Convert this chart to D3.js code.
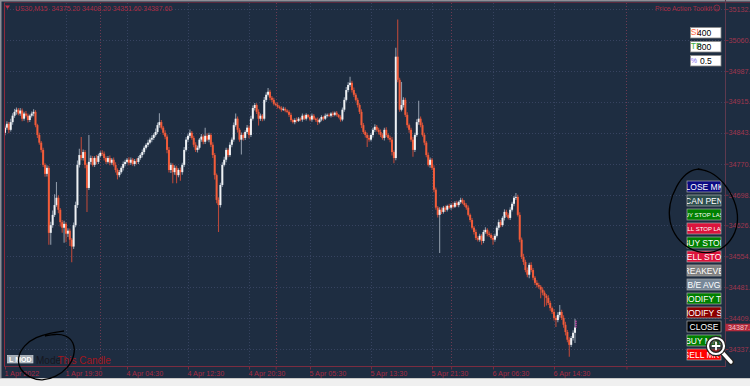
<!DOCTYPE html>
<html><head><meta charset="utf-8">
<script src="https://cdn.jsdelivr.net/npm/d3@7"></script>
<style>
html,body{margin:0;padding:0;background:#1e2d40;overflow:hidden}
svg{display:block}
text{font-family:"Liberation Sans",Arial,sans-serif}
</style></head><body>
<svg id="c" width="750" height="386"></svg>
<script>
// ---------------- data ----------------
const symbol = "US30,M15";
const firstOpen = 34843;
const closes = [
34855,34864,34850,34868,34883,34892,34897,34888,34895,34876,
34888,34883,34873,34883,34888,34892,34861,34838,34820,34803,
34768,34747,34761,34609,34627,34651,34674,34691,34663,34634,
34621,34630,34607,34614,34593,34577,34627,34674,34768,34791,
34784,34798,34768,34714,34775,34784,34768,34784,34775,34789,
34796,34794,34784,34775,34784,34773,34780,34768,34756,34744,
34751,34761,34770,34775,34780,34773,34780,34770,34777,34775,
34784,34791,34798,34808,34815,34820,34827,34831,34838,34845,
34861,34868,34855,34843,34834,34803,34756,34768,34751,34761,
34744,34756,34751,34768,34803,34827,34836,34843,34831,34815,
34803,34808,34827,34834,34822,34836,34827,34838,34815,34791,
34744,34686,34674,34721,34768,34780,34803,34791,34815,34827,
34861,34876,34850,34827,34838,34831,34845,34855,34838,34876,
34901,34908,34892,34876,34883,34876,34920,34932,34939,34925,
34920,34911,34908,34904,34901,34897,34899,34895,34892,34885,
34873,34868,34873,34871,34876,34874,34883,34876,34885,34880,
34874,34883,34876,34873,34868,34874,34880,34876,34883,34885,
34883,34888,34885,34890,34885,34880,34874,34897,34920,34943,
34955,34960,34943,34932,34920,34908,34892,34861,34845,34838,
34831,34827,34838,34850,34857,34850,34845,34838,34831,34850,
34838,34831,34827,34798,34784,35021,34967,34897,34908,34920,
34885,34861,34850,34827,34803,34838,34868,34876,34861,34838,
34820,34791,34768,34780,34761,34710,34668,34651,34663,34658,
34668,34663,34672,34668,34674,34670,34679,34674,34681,34686,
34679,34674,34668,34651,34639,34621,34611,34597,34593,34602,
34590,34611,34616,34607,34604,34597,34593,34602,34621,34634,
34627,34644,34658,34651,34644,34663,34677,34691,34693,34651,
34593,34553,34541,34522,34511,34534,34522,34504,34492,34487,
34483,34476,34469,34462,34457,34445,34433,34424,34410,34405,
34417,34424,34410,34394,34377,34359,34347,34363,34375.2,34387.6];
const upperWick = [
5,6,4,8,6,7,5,4,6,5, 4,6,5,3,5,6,4,3,5,4, 5,4,6,5,8,10,25,37,6,4, 5,7,4,6,5,4,6,8,10,15,
42,6,5,4,63,6,5,4,7,5, 4,6,5,4,5,6,4,5,6,4, 5,4,6,5,4,6,5,4,5,6, 5,4,6,5,4,7,5,6,4,8,
6,21,5,4,6,5,7,5,4,6, 5,4,6,5,7,6,5,8,4,5, 6,5,4,6,5,19,6,5,4,6, 5,4,6,5,6,7,5,4,6,5,
6,12,5,4,6,5,4,6,5,7, 6,5,4,6,5,4,7,6,9,5, 4,5,3,6,3,4,5,4,3,4, 5,3,4,6,4,3,5,3,4,2,
4,5,4,3,6,3,4,3,5,3, 4,3,5,3,4,2,4,5,6,7, 6,14,5,6,4,5,4,6,5,4, 5,6,4,5,6,4,5,6,4,5,
6,4,5,6,4,21,87,5,54,6, 5,6,4,5,6,5,7,42,5,6, 5,4,6,5,4,6,5,4,6,5, 4,5,3,5,4,6,4,5,3,5,
4,6,4,5,3,5,4,6,4,5, 4,5,6,4,5,4,6,5,4,6, 5,4,6,5,4,6,5,4,9,5, 6,5,7,5,6,5,6,5,4,6,
5,4,6,5,4,6,5,4,6,5, 6,16,5,6,7,5,6,5,6,20.6];
const lowerWick = [
6,5,8,4,6,5,7,4,5,6, 5,4,6,5,4,6,5,7,5,6, 5,7,6,28,28,6,5,4,8,10, 12,35,20,8,15,37,6,5,7,6,
5,6,8,56,5,6,4,5,6,5, 4,5,6,5,4,6,5,4,6,10, 5,4,6,5,4,6,5,4,5,6, 5,4,6,5,4,5,4,6,5,4,
5,6,4,5,6,8,6,7,26,6, 19,5,20,6,5,4,6,5,4,6, 5,6,4,5,6,5,4,6,5,7, 10,8,63,6,5,4,6,5,4,6,
5,4,6,5,35,6,5,4,8,5, 4,6,5,16,5,6,4,5,4,6, 5,4,3,4,3,5,3,4,3,5, 4,3,5,4,3,4,5,3,4,3,
4,5,3,4,7,3,4,5,3,4, 3,4,5,3,4,3,5,4,5,4, 5,4,6,5,4,6,5,7,5,6, 21,5,4,6,5,4,6,5,4,6,
5,4,6,8,12,5,6,5,4,6, 5,6,7,5,16,5,4,6,5,4, 6,5,4,7,5,6,5,6,89,5, 4,5,4,3,5,4,3,4,5,4,
3,4,5,4,5,4,6,5,4,5, 9,5,4,6,5,4,12,5,4,6, 5,4,6,5,4,5,4,6,5,4, 6,5,7,5,6,8,5,6,5,6,
5,20,6,26,18,5,6,5,6,16, 5,6,5,7,8,6,28,5,6,23.6];
const timeLabels = ["1 Apr 2022","1 Apr 19:30","4 Apr 04:30","4 Apr 12:30","4 Apr 20:30","5 Apr 05:30","5 Apr 13:30","5 Apr 21:30","6 Apr 06:30","6 Apr 14:30"];
const timeLabelIdx = [0,32,64,96,128,160,192,224,256,288];
const separatorIdx = [50,142,234,326];
const priceTicks = [35132.6,35060.0,34987.4,34915.9,34843.3,34770.7,34698.1,34626.6,34554.0,34481.4,34409.9,34337.3];
const priceTickLabels = ["35132.6","35060.0","34987.4","34915.9","34843.3","34770.7","34698.1","34626.6","34554.0","34481.4","34409.9","34337.3"];
const inputLabels = ["SL","TP","%"];
const inputValues = ["400","800","0.5"];
const buttonLabels = ["CLOSE MKT","CAN PEN","BUY STOP LAST","SELL STOP LAST","BUY STOP","SELL STOP","BREAKEVEN","B/E AVG","MODIFY TP","MODIFY SL","CLOSE","BUY MKT","SELL MKT"];

// ---------------- drawing ----------------
const svg = d3.select("#c");
const PL = 4, PR = 725, PT = 3, PB = 366;
const fg = "#a82c44";
svg.append("rect").attr("width",750).attr("height",386).attr("fill","#1e2d41");

const n = closes.length;
const x = d3.scaleLinear().domain([0, n-1]).range([5, 575]);
const y = d3.scaleLinear().domain([34337.3, 35132.6]).range([349, 9]);

const defs = svg.append("defs");
defs.append("clipPath").attr("id","plotclip").append("rect")
  .attr("x",PL).attr("y",PT).attr("width",PR-PL).attr("height",PB-PT);

// grid
const gH = svg.append("g");
gH.selectAll("line").data(priceTicks).join("line")
  .attr("x1",PL).attr("x2",PR)
  .attr("y1",d=>Math.round(y(d))+0.5).attr("y2",d=>Math.round(y(d))+0.5)
  .attr("stroke","#374360").attr("stroke-dasharray","1,2");
const gV = svg.append("g");
gV.selectAll("line").data(timeLabelIdx.slice(1)).join("line")
  .attr("x1",d=>Math.round(x(d))+0.5).attr("x2",d=>Math.round(x(d))+0.5)
  .attr("y1",PT).attr("y2",PB)
  .attr("stroke","#374360").attr("stroke-dasharray","1,2");
const gS = svg.append("g");
gS.selectAll("line").data(separatorIdx).join("line")
  .attr("x1",d=>Math.round(x(d))+0.5).attr("x2",d=>Math.round(x(d))+0.5)
  .attr("y1",PT).attr("y2",PB)
  .attr("stroke","#6e3a52").attr("stroke-dasharray","1,2");

// candles
const bars = closes.map((c,i)=>{
  const o = i===0 ? firstOpen : closes[i-1];
  return {i, o, c, h: Math.max(o,c)+upperWick[i], l: Math.min(o,c)-lowerWick[i]};
});
const gW = svg.append("g").attr("clip-path","url(#plotclip)");
gW.selectAll("line").data(bars).join("line")
  .attr("x1",d=>x(d.i)).attr("x2",d=>x(d.i))
  .attr("y1",d=>y(d.h)).attr("y2",d=>y(d.l))
  .attr("stroke",d=>d.c>=d.o?"#8b97a6":"#b8483a").attr("stroke-width",1.1);
const gB = svg.append("g").attr("clip-path","url(#plotclip)");
gB.selectAll("rect").data(bars).join("rect")
  .attr("x",d=>x(d.i)-1).attr("width",2)
  .attr("y",d=>y(Math.max(d.o,d.c)))
  .attr("height",d=>Math.max(0.9, y(Math.min(d.o,d.c))-y(Math.max(d.o,d.c))))
  .attr("fill",d=>d.c>=d.o?"#eef1f4":"#f25c3a");
// last-bar marker
const last = bars[n-1];
svg.append("line").attr("x1",x(last.i)+1).attr("x2",x(last.i)+1)
  .attr("y1",y(last.h)+2).attr("y2",y(last.c))
  .attr("stroke","#ff44c8").attr("stroke-width",1.4).attr("stroke-dasharray","1,1");

// frame
svg.append("rect").attr("x",0).attr("y",0).attr("width",750).attr("height",1.5).attr("fill","#8e8e96");
svg.append("rect").attr("x",0).attr("y",0).attr("width",1.5).attr("height",378).attr("fill","#8e8e96");
svg.append("line").attr("x1",PL).attr("x2",750).attr("y1",2.5).attr("y2",2.5).attr("stroke","#5a2a3e");
svg.append("line").attr("x1",PL+0.5).attr("x2",PL+0.5).attr("y1",PT).attr("y2",PB).attr("stroke","#8e2b3d");
svg.append("line").attr("x1",PL).attr("x2",PR).attr("y1",PB+0.5).attr("y2",PB+0.5).attr("stroke","#7a2c40");
svg.append("line").attr("x1",PR+0.5).attr("x2",PR+0.5).attr("y1",0).attr("y2",PB+1).attr("stroke","#5e3a4e");

// time axis
const ax = svg.append("g").attr("transform",`translate(0,${PB+0.5})`)
  .call(d3.axisBottom(x).tickValues(timeLabelIdx).tickFormat((d,i)=>timeLabels[i]).tickSize(3).tickPadding(1));
const ax2 = svg.append("g").attr("transform",`translate(0,${PB+0.5})`)
  .call(d3.axisBottom(x).tickValues(separatorIdx).tickFormat(()=>"").tickSize(3));
[ax,ax2].forEach(g=>{
  g.select(".domain").remove();
  g.selectAll("line").attr("stroke","#7a2c40");
});
ax.selectAll("text").attr("text-anchor","start").attr("dx",-1).attr("fill",fg)
  .style("font-size","7.2px").style("font-family","'Liberation Sans',Arial,sans-serif");

// price axis
const ay = svg.append("g").attr("transform",`translate(${PR+0.5},0)`)
  .call(d3.axisRight(y).tickValues(priceTicks).tickFormat((d,i)=>priceTickLabels[i]).tickSize(3).tickPadding(0));
ay.select(".domain").remove();
ay.selectAll("line").attr("stroke","#7a2c40");
ay.selectAll("text").attr("fill","#a0364e").attr("x",3)
  .style("font-size","7.2px").style("font-family","'Liberation Sans',Arial,sans-serif");

// current price label
const cy = y(last.c);
svg.append("rect").attr("x",PR+0.5).attr("y",cy-3.8).attr("width",30).attr("height",7.6).attr("fill","#b22a3c");
svg.append("text").attr("x",PR+3).attr("y",cy+2.6).attr("fill","#f3c4ca")
  .style("font-size","7.2px").text(last.c.toFixed(1));

// title
svg.append("path").attr("d","M5,5.5 L10,5.5 L7.5,9 Z").attr("fill","#c0304a");
svg.append("text").attr("x",15).attr("y",10.5).attr("fill",fg).style("font-size","6.9px")
  .attr("xml:space","preserve")
  .text(`${symbol}  ${last.o.toFixed(2)} ${last.h.toFixed(2)} ${last.l.toFixed(2)} ${last.c.toFixed(2)}`);
svg.append("text").attr("x",712).attr("y",10.5).attr("text-anchor","end").attr("fill",fg)
  .style("font-size","6.8px").text("Price Action Toolkit");
svg.append("circle").attr("cx",716.8).attr("cy",8).attr("r",3).attr("fill","none").attr("stroke",fg).attr("stroke-width",0.8);
svg.append("circle").attr("cx",715.7).attr("cy",7.2).attr("r",0.45).attr("fill",fg);
svg.append("circle").attr("cx",717.9).attr("cy",7.2).attr("r",0.45).attr("fill",fg);
svg.append("path").attr("d","M715.3,8.8 Q716.8,10.4 718.3,8.8").attr("fill","none").attr("stroke",fg).attr("stroke-width",0.6);

// input boxes
const inColors = ["#ff6a45","#3cb043","#7b68ee"];
inputLabels.forEach((lab,k)=>{
  const by = 27 + 14*k;
  svg.append("rect").attr("x",690.5).attr("y",by+0.5).attr("width",30.5).attr("height",10.5)
    .attr("fill","#ffffff").attr("stroke","#8a8a8a").attr("stroke-width",0.8);
  svg.append("text").attr("x",690.8).attr("y",by+7.6).attr("fill",inColors[k]).style("font-size",k===2?"7px":"8.5px").text(lab);
  svg.append("text").attr("x",k===2?700:697).attr("y",by+9.2).attr("fill","#000").style("font-size","8.5px").text(inputValues[k]);
});

// buttons
const btnColors = ["#0a0a82","#2f4f4f","#008000","#dc143c","#008000","#dc143c","#808080","#778899","#008000","#8b0000","#000000","#008000","#ff0000"];
buttonLabels.forEach((lab,k)=>{
  const by = 181 + 14*k;
  const id = "bc"+k;
  defs.append("clipPath").attr("id",id).append("rect").attr("x",687).attr("y",by).attr("width",34).attr("height",11);
  svg.append("rect").attr("x",687).attr("y",by).attr("width",34).attr("height",11)
    .attr("fill",btnColors[k]).attr("stroke","#a8a8a8").attr("stroke-width",0.7);
  const small = lab.endsWith("LAST");
  svg.append("text").attr("clip-path",`url(#${id})`).attr("x",704).attr("y",by+(small?7.8:8.7))
    .attr("text-anchor","middle").attr("fill","#ffffff")
    .style("font-size",small?"6px":"8.5px").text(lab);
});

// bottom-left controls
svg.append("rect").attr("x",7.5).attr("y",355.5).attr("width",25.5).attr("height",7.5)
  .attr("fill","#a4acb4").attr("stroke","#d8dde2").attr("stroke-width",0.6);
svg.append("text").attr("x",20.3).attr("y",361.8).attr("text-anchor","middle").attr("fill","#ffffff")
  .style("font-size","7px").style("font-weight","bold").text("L MOD");
svg.append("text").attr("x",36).attr("y",364).attr("fill","#17171f").style("font-size","10px").text("Mode");
svg.append("text").attr("x",57.5).attr("y",364).attr("fill","#a3161e").style("font-size","10px").text("This Candle");

// bottom window strip
svg.append("rect").attr("x",0).attr("y",378.5).attr("width",750).attr("height",8).attr("fill","#f0f0f0");
svg.append("line").attr("x1",0).attr("x2",750).attr("y1",378.5).attr("y2",378.5).attr("stroke","#c8c8c8");

// hand-drawn annotations
const pen = d3.line().curve(d3.curveBasis);
svg.append("path").attr("d",pen([[64,331],[50,333],[36,337],[24,345],[17,358],[20,370],[30,378],[42,381],[56,377],[68,368],[75,355],[74,342],[66,335],[55,334],[45,336]]))
  .attr("fill","none").attr("stroke","#000").attr("stroke-width",1.3);
svg.append("path").attr("d",pen([[706,171],[697,168],[686,173],[676,186],[669,204],[669,222],[676,238],[690,250],[706,254],[722,250],[734,237],[739,220],[735,200],[724,182],[710,171],[698,169]]))
  .attr("fill","none").attr("stroke","#000").attr("stroke-width",1.3);

// magnifier icon
svg.append("line").attr("x1",722).attr("y1",352).attr("x2",731).attr("y2",362).attr("stroke","#222").attr("stroke-width",6).attr("stroke-linecap","round");
svg.append("line").attr("x1",722).attr("y1",352).attr("x2",731).attr("y2",362).attr("stroke","#fff").attr("stroke-width",3.4).attr("stroke-linecap","round");
svg.append("circle").attr("cx",716).attr("cy",346).attr("r",8).attr("fill","rgba(55,55,55,0.6)").attr("stroke","#222").attr("stroke-width",4.5);
svg.append("circle").attr("cx",716).attr("cy",346).attr("r",8).attr("fill","none").attr("stroke","#fff").attr("stroke-width",2.2);
svg.append("path").attr("d","M711.8,346 H720.2 M716,341.8 V350.2").attr("stroke","#fff").attr("stroke-width",1.8);
</script>
</body></html>
